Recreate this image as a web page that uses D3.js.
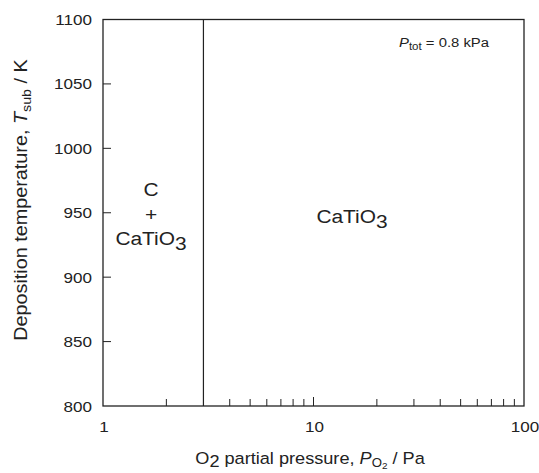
<!DOCTYPE html>
<html>
<head>
<meta charset="utf-8">
<script src="https://cdn.jsdelivr.net/npm/d3@7"></script>
<style>
  body { margin: 0; background: #fff; }
  svg { font-family: "Liberation Sans", Arial, sans-serif; }
</style>
</head>
<body>
<script>
// data
const xDomain = [1, 100]
const yDomain = [800, 1100]
const yTicks = [800, 850, 900, 950, 1000, 1050, 1100]
const xMajor = [1, 10, 100]
const xMinor = [2, 4, 5, 6, 7, 8, 9, 20, 30, 40, 50, 60, 70, 80, 90]
const boundaryPO2 = [3]   // phase boundary, Pa
const leftRegion = ['C', '+', 'CaTiO']
const rightRegion = 'CaTiO'

const w = 539
const h = 473
const m = { left: 103, right: 15, top: 19.5, bottom: 67 }
const sx = 1.1   // glyphs in the picture are a bit wider than Liberation Sans
const ink = '#222'

const svg = d3.select('body')
  .append('svg')
  .attr('width', w)
  .attr('height', h)

const x = d3.scaleLog()
  .domain(xDomain)
  .range([m.left, w - m.right])

const y = d3.scaleLinear()
  .domain(yDomain)
  .range([h - m.bottom, m.top])

// text placed at (px, py), stretched along its length
label = (px, py, size, anchor, stretch = sx, rot = 0) => {
  return svg.append('g')
    .attr('transform', `translate(${px},${py}) rotate(${rot}) scale(${stretch},1)`)
    .append('text')
    .attr('text-anchor', anchor)
    .attr('font-size', size)
    .attr('fill', ink)
}

// y ticks (inside) + labels
svg.append('g')
  .selectAll('line')
  .data(yTicks.slice(1, -1))
  .join('line')
  .attr('x1', m.left).attr('x2', m.left + 8)
  .attr('y1', d => y(d)).attr('y2', d => y(d))
  .attr('stroke', ink)

yTicks.forEach(d => {
  label(m.left - 11, y(d) + 5.5, 15.5, 'end').text(d)
})

// x ticks (inside)
svg.append('g')
  .selectAll('line')
  .data(xMinor)
  .join('line')
  .attr('x1', d => x(d)).attr('x2', d => x(d))
  .attr('y1', y(800)).attr('y2', y(800) - 7)
  .attr('stroke', ink)

svg.append('g')
  .selectAll('line')
  .data(xMajor.slice(1, -1))
  .join('line')
  .attr('x1', d => x(d)).attr('x2', d => x(d))
  .attr('y1', y(800)).attr('y2', y(800) - 9)
  .attr('stroke', ink)

xMajor.forEach(d => {
  label(x(d) + 1, 432, 15.5, 'middle').text(d)
})

// frame
svg.append('rect')
  .attr('x', x(xDomain[0]))
  .attr('y', y(yDomain[1]))
  .attr('width', x(xDomain[1]) - x(xDomain[0]))
  .attr('height', y(yDomain[0]) - y(yDomain[1]))
  .attr('fill', 'none')
  .attr('stroke', ink)
  .attr('stroke-width', 1.3)

// phase boundary
svg.selectAll('.boundary')
  .data(boundaryPO2)
  .join('line')
  .attr('class', 'boundary')
  .attr('x1', d => x(d)).attr('x2', d => x(d))
  .attr('y1', y(yDomain[0])).attr('y2', y(yDomain[1]))
  .attr('stroke', ink)
  .attr('stroke-width', 1.2)

// region labels
const lx = 151
label(lx, 196, 19, 'middle').text(leftRegion[0])
label(lx, 221, 19, 'middle').text(leftRegion[1])
const lt = label(lx, 245, 19, 'middle')
lt.append('tspan').text(leftRegion[2])
lt.append('tspan').attr('dy', 5).text('3')

const rt = label(352, 223, 19, 'middle')
rt.append('tspan').text(rightRegion)
rt.append('tspan').attr('dy', 5).text('3')

// P_tot annotation
const pt = label(399, 47, 13.5, 'start')
pt.append('tspan').attr('font-style', 'italic').text('P')
pt.append('tspan').attr('font-size', 10.5).attr('dy', 3).text('tot')
pt.append('tspan').attr('dy', -3).text(' = 0.8 kPa')

// x axis title
const xt = label(310, 464, 16.5, 'middle')
xt.append('tspan').text('O')
xt.append('tspan').attr('dy', 3).text('2')
xt.append('tspan').attr('dy', -3).text(' partial pressure, ')
xt.append('tspan').attr('font-style', 'italic').text('P')
xt.append('tspan').attr('font-size', 12).attr('dy', 3).text('O')
xt.append('tspan').attr('font-size', 9).attr('dy', 2).text('2')
xt.append('tspan').attr('dy', -5).text(' / Pa')

// y axis title
const yt = label(27, 200, 18, 'middle', 1.1, -90)
yt.append('tspan').text('Deposition temperature, ')
yt.append('tspan').attr('font-style', 'italic').text('T')
yt.append('tspan').attr('font-size', 13).attr('dy', 4).text('sub')
yt.append('tspan').attr('dy', -4).text(' / K')
</script>
</body>
</html>
